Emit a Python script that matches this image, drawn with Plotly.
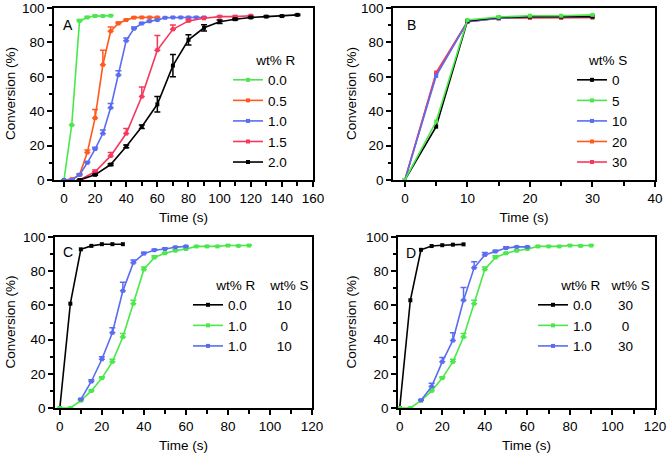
import plotly.graph_objects as go

# ---------------- Data ----------------
# Panel A : wt% R series
a_x_00 = [0, 5, 10, 15, 20, 25, 30]
a_y_00 = [0, 32, 92.5, 94.5, 95.3, 95.3, 95.5]
a_e_00 = [0, 0, 0.8, 0.5, 0.5, 0.3, 0.3]

a_x_05 = [0, 5, 10, 15, 20, 25, 30, 35, 40, 45, 50, 55, 60]
a_y_05 = [0, 0.5, 3, 16, 36, 67, 86.5, 91, 93, 94.4, 94.5, 94.5, 94.5]
a_e_05 = [0, 0, 0.5, 1.5, 5, 8.5, 2.5, 0.8, 0.5, 0.3, 0.3, 0.3, 0.3]

a_x_10 = [0, 5, 10, 15, 20, 25, 30, 35, 40, 45, 50, 55, 60, 65, 70, 75, 80, 85, 90]
a_y_10 = [0, 0, 3, 10, 18, 27, 42, 61, 81, 88, 91, 92.3, 93, 94.3, 94.5, 94.5, 94.5, 94.5, 94.5]
a_e_10 = [0, 0, 0.5, 0.8, 1, 2, 2.5, 2.5, 1.5, 1, 0.5, 0.5, 0.5, 0.3, 0.3, 0.3, 0.3, 0.3, 0.3]

a_x_15 = [10, 20, 30, 40, 50, 60, 70, 80, 90, 100, 110, 120]
a_y_15 = [0, 4.8, 14, 27, 48.5, 75.5, 87.6, 92.5, 94, 95, 95, 95.5]
a_e_15 = [0, 1, 2, 3, 5.5, 8.5, 2.5, 1, 0.5, 0.3, 0.3, 0.3]

a_x_20 = [10, 20, 30, 40, 50, 60, 70, 80, 90, 100, 110, 120, 130, 140, 150]
a_y_20 = [0, 3, 9, 19.5, 31, 44, 66.5, 81.5, 88.5, 92, 93.5, 94.5, 95, 95.3, 96]
a_e_20 = [0, 0.3, 0.5, 0.8, 1, 4.5, 6.5, 3, 1.8, 1, 0.5, 0.3, 0.3, 0.3, 0.3]

# Panel B : wt% S series (all at the same times)
b_x = [0, 5, 10, 15, 20, 25, 30]
b_y_0 = [0, 31, 92.5, 94.5, 95, 95, 95]
b_y_5 = [0, 34, 93, 94.8, 95.5, 95.5, 96]
b_y_10 = [0, 60.5, 92, 94, 94.8, 94.8, 95]
b_y_20 = [0, 61.5, 92, 94, 94.2, 94.2, 94.5]
b_y_30 = [0, 62.5, 92, 94, 94.5, 94.5, 94.5]

# Panel C
c_x_k = [0, 5, 10, 15, 20, 25, 30]
c_y_k = [0, 61, 92.8, 94.8, 95.8, 95.8, 95.8]
c_x_g = [0, 5, 10, 15, 20, 25, 30, 35, 40, 45, 50, 55, 60, 65, 70, 75, 80, 85, 90]
c_y_g = [0, 0, 4.3, 10, 17.5, 27, 41.5, 61, 81, 88, 90.5, 92, 93, 94.5, 94.5, 94.5, 95, 94.8, 95]
c_e_g = [0, 0, 0.3, 0.5, 0.8, 1.5, 2, 2, 1.5, 1, 0.5, 0.5, 0.5, 0.3, 0.3, 0.3, 0.3, 0.3, 0.3]
c_x_b = [10, 15, 20, 25, 30, 35, 40, 45, 50, 55, 60]
c_y_b = [5, 15.5, 28.5, 44, 68.5, 85, 90.3, 92.3, 93, 94, 94.5]
c_e_b = [0.5, 1, 1.5, 3, 5, 1.5, 0.8, 0.5, 0.5, 0.3, 0.3]

# Panel D
d_x_k = [0, 5, 10, 15, 20, 25, 30]
d_y_k = [0, 63, 92.5, 94.7, 95.2, 95.5, 95.7]
d_x_g = [0, 5, 10, 15, 20, 25, 30, 35, 40, 45, 50, 55, 60, 65, 70, 75, 80, 85, 90]
d_y_g = [0, 0, 4.3, 10, 17.5, 27, 41.5, 61, 81, 88, 90.5, 92, 93, 94.5, 94.5, 94.5, 95, 94.8, 95]
d_e_g = [0, 0, 0.3, 0.5, 0.8, 1.5, 2, 2, 1.5, 1, 0.5, 0.5, 0.5, 0.3, 0.3, 0.3, 0.3, 0.3, 0.3]
d_x_b = [10, 15, 20, 25, 30, 35, 40, 45, 50, 55, 60]
d_y_b = [4.5, 12.5, 27, 39.5, 63, 82, 89.5, 91.5, 93.5, 94.2, 94.2]
d_e_b = [0.5, 2, 2.5, 4.5, 7.5, 3.5, 1.5, 0.8, 0.8, 0.3, 0.3]

# ---------------- Styles ----------------
GREEN = "#4ae84a"
ORANGE = "#ff5a1e"
BLUE = "#5a6cf0"
RED = "#f5385c"
BLACK = "#000000"
FONT = "Arial, Liberation Sans, sans-serif"
FS = 13.5

fig = go.Figure()


def add(xs, ys, errs, color, name, xa, ya, legend, rank, sym_err=False, show=True):
    err = None
    if errs is not None:
        if sym_err:
            err = dict(type="data", array=errs, symmetric=True, color=color,
                       thickness=1.5, width=3)
        else:
            err = dict(type="data", array=errs, arrayminus=[0] * len(errs),
                       symmetric=False, color=color, thickness=1.5, width=3)
    fig.add_trace(go.Scatter(
        x=xs, y=ys, mode="lines+markers", name=name,
        line=dict(color=color, width=1.6),
        marker=dict(color=color, size=4, symbol="square"),
        error_y=err, xaxis=xa, yaxis=ya, legend=legend,
        legendrank=rank, showlegend=show))


NB = "\u00a0"

# Panel A
add(a_x_00, a_y_00, a_e_00, GREEN, "0.0", "x", "y", "legend", 1)
add(a_x_05, a_y_05, a_e_05, ORANGE, "0.5", "x", "y", "legend", 2)
add(a_x_10, a_y_10, a_e_10, BLUE, "1.0", "x", "y", "legend", 3)
add(a_x_15, a_y_15, a_e_15, RED, "1.5", "x", "y", "legend", 4)
add(a_x_20, a_y_20, a_e_20, BLACK, "2.0", "x", "y", "legend", 5, sym_err=True)

# Panel B (drawing order differs from legend order)
add(b_x, b_y_20, None, ORANGE, "20", "x2", "y2", "legend2", 4)
add(b_x, b_y_30, None, RED, "30", "x2", "y2", "legend2", 5)
add(b_x, b_y_10, None, BLUE, "10", "x2", "y2", "legend2", 3)
add(b_x, b_y_0, None, BLACK, "0", "x2", "y2", "legend2", 1)
add(b_x, b_y_5, None, GREEN, "5", "x2", "y2", "legend2", 2)

# Panel C
add(c_x_k, c_y_k, None, BLACK, "0.0" + NB * 8 + "10", "x3", "y3", "legend3", 1)
add(c_x_g, c_y_g, c_e_g, GREEN, "1.0" + NB * 9 + "0", "x3", "y3", "legend3", 2)
add(c_x_b, c_y_b, c_e_b, BLUE, "1.0" + NB * 8 + "10", "x3", "y3", "legend3", 3)

# Panel D
add(d_x_k, d_y_k, None, BLACK, "0.0" + NB * 7 + "30", "x4", "y4", "legend4", 1)
add(d_x_g, d_y_g, d_e_g, GREEN, "1.0" + NB * 8 + "0", "x4", "y4", "legend4", 2)
add(d_x_b, d_y_b, d_e_b, BLUE, "1.0" + NB * 7 + "30", "x4", "y4", "legend4", 3)

W, H = 670, 457


def px_x(p):
    return p / W


def px_y(p):
    return 1 - p / H


def xaxis(dom, rng, dtick, mdtick, anchor):
    return dict(domain=[px_x(dom[0]), px_x(dom[1])], range=rng, anchor=anchor,
                automargin=False,
                dtick=dtick, tick0=0, showline=True, linecolor="black", linewidth=1.5,
                mirror=True, ticks="outside", ticklen=5, tickwidth=1.5, tickcolor="black",
                showgrid=False, zeroline=False,
                minor=dict(dtick=mdtick, tick0=0, ticks="outside", ticklen=4, tickwidth=1.5,
                           tickcolor="black", showgrid=False),
                tickfont=dict(family=FONT, size=FS, color="black"),
                title=dict(text="Time (s)", font=dict(family=FONT, size=FS, color="black"),
                           standoff=8))


def yaxis(dom, anchor):
    return dict(domain=[px_y(dom[1]), px_y(dom[0])], range=[0, 100], anchor=anchor,
                automargin=False,
                dtick=20, tick0=0, showline=True, linecolor="black", linewidth=1.5,
                mirror=True, ticks="outside", ticklen=5, tickwidth=1.5, tickcolor="black",
                showgrid=False, zeroline=False,
                minor=dict(dtick=10, tick0=0, ticks="outside", ticklen=3, tickwidth=1.5,
                           tickcolor="black", showgrid=False),
                tickfont=dict(family=FONT, size=FS, color="black"))


def legend(xp, yp, title):
    return dict(x=px_x(xp), y=px_y(yp), xanchor="left", yanchor="top",
                bgcolor="rgba(0,0,0,0)", borderwidth=0,
                font=dict(family=FONT, size=FS, color="black"),
                title=dict(text=title, font=dict(family=FONT, size=FS, color="black")),
                itemwidth=30, tracegroupgap=0)


fig.update_layout(
    width=W, height=H, margin=dict(l=0, r=0, t=0, b=0, autoexpand=False),
    paper_bgcolor="white", plot_bgcolor="white",
    font=dict(family=FONT, size=FS, color="black"),
    xaxis=xaxis((54, 313), [-6.4, 160], 20, 10, "y"),
    yaxis=yaxis((8, 180), "x"),
    xaxis2=xaxis((393, 655), [-1.9, 40], 10, 5, "y2"),
    yaxis2=yaxis((8, 180), "x2"),
    xaxis3=xaxis((55, 312), [-2.3, 120], 20, 10, "y3"),
    yaxis3=yaxis((237, 408), "x3"),
    xaxis4=xaxis((398, 655), [-0.8, 120], 20, 10, "y4"),
    yaxis4=yaxis((237, 408), "x4"),
    legend=legend(228, 47, NB * 7 + "wt% R"),
    legend2=legend(572, 47, NB * 4 + "wt% S"),
    legend3=legend(188, 272, NB * 7 + "wt% R" + NB * 4 + "wt% S"),
    legend4=legend(533, 272, NB * 7 + "wt% R" + NB * 3 + "wt% S"),
    showlegend=True,
)

letters = [("A", "x", "y", 0.054, 0.901), ("B", "x2", "y2", 0.0725, 0.901),
           ("C", "x3", "y3", 0.05, 0.912), ("D", "x4", "y4", 0.05, 0.906)]
for txt, xa, ya, lx, ly in letters:
    fig.add_annotation(text=txt, xref=xa + " domain", yref=ya + " domain",
                       x=lx, y=ly, xanchor="center", yanchor="middle", showarrow=False,
                       font=dict(family=FONT, size=FS + 0.5, color="black"))

# y-axis titles, placed as rotated text left of each axis
ytitles = [(10, "y"), (351, "y2"), (10, "y3"), (351, "y4")]
for xp, ya in ytitles:
    fig.add_annotation(text="Conversion (%)", xref="paper", yref=ya + " domain",
                       x=px_x(xp), y=0.5, textangle=-90, showarrow=False,
                       xanchor="center", yanchor="middle",
                       font=dict(family=FONT, size=FS, color="black"))

# remove the default page margin so the figure fills the window from its corner
fig.write_html("out.html", config={"displayModeBar": False},
               post_script="document.body.style.margin='0px';")
